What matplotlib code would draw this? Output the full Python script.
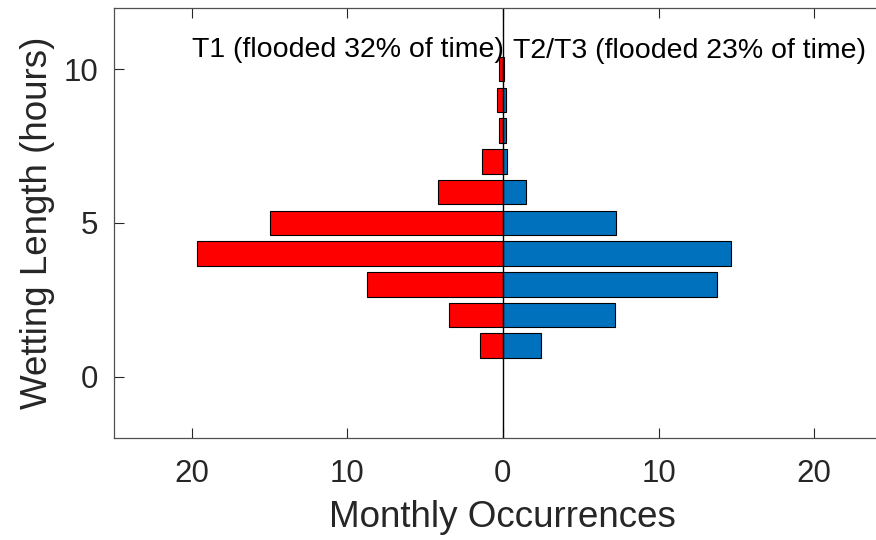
import numpy as np
import matplotlib
matplotlib.use('Agg')
import matplotlib.pyplot as plt

plt.rcParams['font.family'] = ['Liberation Sans', 'DejaVu Sans']

# wetting length bins (hours) and monthly occurrences
hours = [1, 2, 3, 4, 5, 6, 7, 8, 9, 10]
t1 = [1.50, 3.43, 8.73, 19.63, 14.99, 4.16, 1.35, 0.26, 0.35, 0.26]
t23 = [2.43, 7.21, 13.76, 14.66, 7.29, 1.46, 0.29, 0.18, 0.22, 0.05]
xticks = [-20, -10, 0, 10, 20]
yticks = [0, 5, 10]

axcol = '#262626'

fig = plt.figure(figsize=(8.76, 5.4), dpi=100)
ax = fig.add_axes([113.7 / 876, 1 - 438 / 540, (892 - 113.7) / 876, (438 - 7.7) / 540])

ax.barh(hours, -np.array(t1), height=0.8, color='#ff0000', edgecolor='black', linewidth=0.8)
ax.barh(hours, t23, height=0.8, color='#0072bd', edgecolor='black', linewidth=0.8)
ax.axvline(0, color='black', linewidth=1.0)

ax.set_xlim(-25, 25)
ax.set_ylim(-2, 12)
ax.set_xticks(xticks)
ax.set_xticklabels([str(abs(v)) for v in xticks])
ax.set_yticks(yticks)

ax.tick_params(direction='in', length=7, width=0.8, colors=axcol, labelsize=22.5,
               top=True, right=True, labelcolor=axcol)
ax.tick_params(axis='x', pad=15)
ax.tick_params(axis='y', pad=11)
for s in ax.spines.values():
    s.set_color('#505050')
    s.set_linewidth(0.9)

ax.set_xlabel('Monthly Occurrences', fontsize=26.5, color=axcol, labelpad=8)
ax.set_ylabel('Wetting Length (hours)', fontsize=26.5, color=axcol, labelpad=6)

ax.text(-20, 10.41, 'T1 (flooded 32% of time)', fontsize=20.5, ha='left', va='baseline')
ax.text(0.67, 10.36, 'T2/T3 (flooded 23% of time)', fontsize=20.5, ha='left', va='baseline')

fig.savefig('out.png', dpi=100)
